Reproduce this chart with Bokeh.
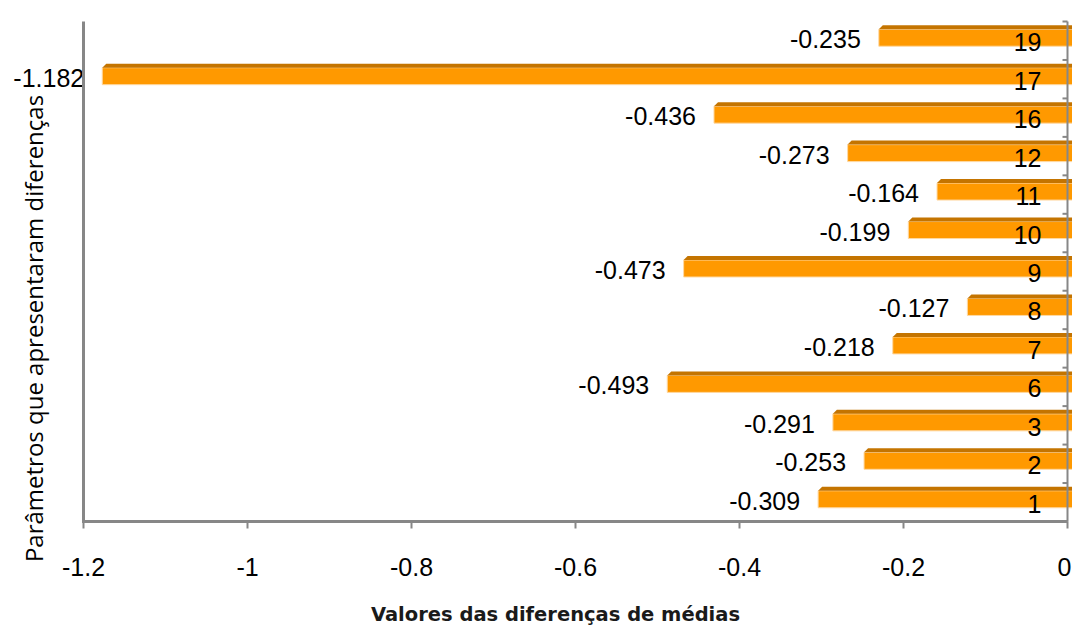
from bokeh.plotting import figure
from bokeh.models import ColumnDataSource, Label, Range1d
from bokeh.embed import file_html
from bokeh.resources import INLINE
from bokeh.core.properties import value

# Parameters that showed differences and the difference of means for each
categories = ["1", "2", "3", "6", "7", "8", "9", "10", "11", "12", "16", "17", "19"]
diffs = [-0.309, -0.253, -0.291, -0.493, -0.218, -0.127, -0.473, -0.199,
         -0.164, -0.273, -0.436, -1.182, -0.235]
x_ticks = [-1.2, -1.0, -0.8, -0.6, -0.4, -0.2, 0.0]
x_tick_labels = ["-1.2", "-1", "-0.8", "-0.6", "-0.4", "-0.2", "0"]

x_title = "Valores das diferenças de médias"
y_title = "Parâmetros que apresentaram diferenças"

FONT = "Liberation Sans"
FRONT = "#FF9900"
TOP = "#C47400"
EDGE = "#FFD9A3"
AXIS = "#878787"

W, H = 1072, 628
n = len(categories)
ys = list(range(n))

# plotting area in pixels; the whole canvas is the frame so that
# titles and outer labels are never clipped
AREA_LEFT, AREA_RIGHT = 83, 1067
AREA_TOP, AREA_BOTTOM = 21, 521
X_MIN, X_MAX = -1.2, 0.0
PPX = (AREA_RIGHT - AREA_LEFT) / (X_MAX - X_MIN)   # px per x unit
PPY = (AREA_BOTTOM - AREA_TOP) / n                   # px per category band


def dx(px):
    return px / PPX


def dy(px):
    return px / PPY


x_start = X_MIN - dx(AREA_LEFT)
x_end = X_MAX + dx(W - AREA_RIGHT)
y_start = -0.5 - dy(H - AREA_BOTTOM)
y_end = n - 0.5 + dy(AREA_TOP)

p = figure(width=W, height=H, output_backend="svg", toolbar_location=None,
           x_range=Range1d(x_start, x_end), y_range=Range1d(y_start, y_end),
           min_border=0, x_axis_type=None, y_axis_type=None)
p.outline_line_color = None
p.xgrid.visible = False
p.ygrid.visible = False
p.background_fill_color = "white"
p.border_fill_color = "white"

# bar geometry: slight 3D look with a darker top face
DEPTH = dx(4)
FRONT_LO = -dy(5.5)   # front face bottom, relative to band centre
FRONT_HI = dy(11.5)   # front face top
TOP_HI = dy(15.5)     # top face upper edge

front = ColumnDataSource(dict(
    y=[y + (FRONT_LO + FRONT_HI) / 2 for y in ys],
    left=[v + DEPTH for v in diffs],
    right=[x_end + dx(5)] * n,
))
p.hbar(y="y", left="left", right="right", height=FRONT_HI - FRONT_LO,
       source=front, fill_color=FRONT, line_color=EDGE, line_width=1)

top_xs, top_ys = [], []
for y, v in zip(ys, diffs):
    top_xs.append([v + DEPTH, v + 2 * DEPTH, x_end + dx(5), x_end + dx(5)])
    top_ys.append([y + FRONT_HI, y + TOP_HI, y + TOP_HI, y + FRONT_HI])
p.patches(top_xs, top_ys, fill_color=TOP, line_color=None)

# value labels at the end of each bar
p.text(x=diffs, y=[y + dy(1.5) for y in ys], text=[f"{v:.3f}" for v in diffs],
       text_font=value(FONT), text_font_size="25px", text_color="black",
       text_align="right", text_baseline="middle", x_offset=-14)

# category labels near the zero line
p.text(x=[X_MAX] * n, y=[y - dy(1.5) for y in ys], text=categories,
       text_font=value(FONT), text_font_size="25px", text_color="black",
       text_align="right", text_baseline="middle", x_offset=-26)

# left axis line and bottom axis line
p.segment(x0=[X_MIN], x1=[X_MIN], y0=[-0.5 - dy(1)], y1=[n - 0.5],
          line_color=AXIS, line_width=3)
p.segment(x0=[X_MIN - dx(1.5)], x1=[X_MAX], y0=[-0.5], y1=[-0.5],
          line_color=AXIS, line_width=3)

# bottom axis ticks and labels (the last one kept inside the right edge)
p.segment(x0=x_ticks, x1=x_ticks, y0=[-0.5] * len(x_ticks),
          y1=[-0.5 - dy(7)] * len(x_ticks), line_color=AXIS, line_width=2)
tick_src = ColumnDataSource(dict(
    x=x_ticks,
    y=[-0.5 - dy(45)] * len(x_ticks),
    text=x_tick_labels,
    align=["center"] * (len(x_ticks) - 1) + ["right"],
    off=[0] * (len(x_ticks) - 1) + [4],
))
p.text(x="x", y="y", text="text", source=tick_src, text_align="align",
       x_offset="off", text_font=value(FONT), text_font_size="25px",
       text_color="black", text_baseline="middle")

# zero line with category separators, drawn over the bars
p.segment(x0=[X_MAX], x1=[X_MAX], y0=[-0.5], y1=[n - 0.5],
          line_color=AXIS, line_width=2, level="overlay")
sep = [k - 0.5 for k in range(n + 1)]
p.segment(x0=[X_MAX - dx(5)] * len(sep), x1=[X_MAX] * len(sep), y0=sep, y1=sep,
          line_color=AXIS, line_width=2, level="overlay")

# axis titles
p.add_layout(Label(x=555, y=H - 614, x_units="screen", y_units="screen",
                   text=x_title, text_font="DejaVu Sans", text_font_style="bold",
                   text_font_size="19.5px", text_color="#1a1a1a",
                   text_align="center", text_baseline="middle"))
p.add_layout(Label(x=33, y=H - 328, x_units="screen", y_units="screen",
                   text=y_title, text_font="Open Sans", angle=1.5708,
                   text_font_size="24px", text_color="black",
                   text_align="center", text_baseline="middle"))

open("out.html", "w").write(file_html(p, INLINE))
